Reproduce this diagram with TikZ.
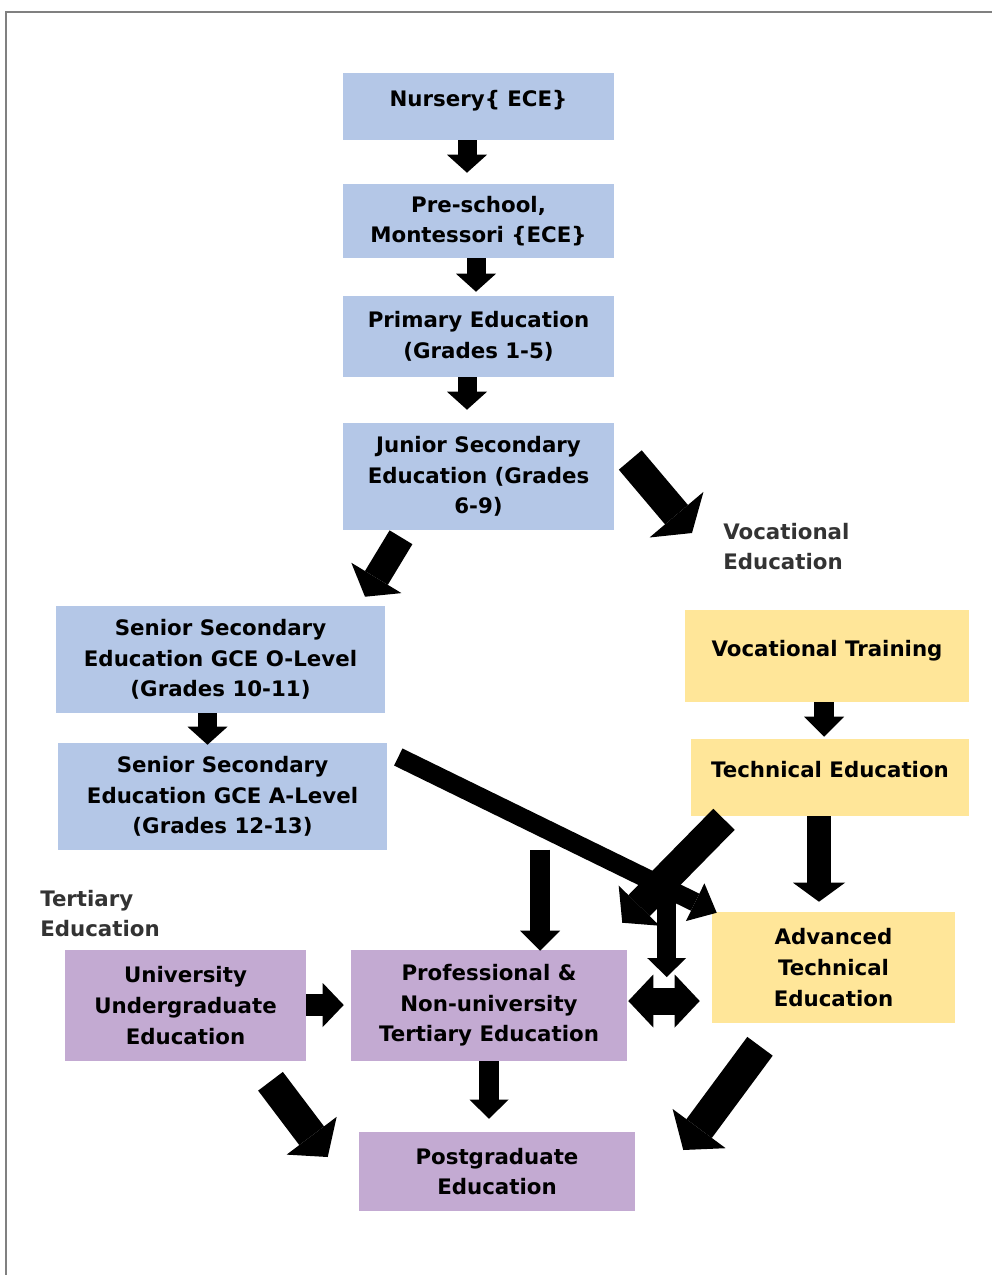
\documentclass[tikz,border=0pt]{standalone}
\usepackage{fontspec}
\setmainfont{DejaVu Sans}
\usetikzlibrary{arrows.meta,calc}
\definecolor{bluebox}{RGB}{180,199,231}
\definecolor{yellowbox}{RGB}{255,230,153}
\definecolor{purplebox}{RGB}{195,170,210}
\definecolor{labelgray}{RGB}{51,51,51}
\definecolor{framegray}{RGB}{128,128,128}
\begin{document}
\begin{tikzpicture}[x=0.75pt,y=-0.75pt,
  every node/.style={font=\fontsize{16pt}{22.9pt}\selectfont\bfseries},
  box/.style={inner sep=0pt, align=center, text=black},
  bluebx/.style={box, fill=bluebox},
  yellowbx/.style={box, fill=yellowbox},
  purplebx/.style={box, fill=purplebox},
  oneline/.style={text height=8pt, text depth=8pt},
  sidelabel/.style={inner sep=0pt, anchor=west, align=left, text=labelgray},
  barrow/.style n args={3}{line width=#1, -{Triangle[length=#2,width=#3,line width=0pt]}},
  dbarrow/.style n args={3}{line width=#1, {Triangle[length=#2,width=#3,line width=0pt]}-{Triangle[length=#2,width=#3,line width=0pt]}},
]
\useasboundingbox (0,0) rectangle (992,1275);
\draw[framegray, line width=1.1pt] (6,1275) -- (6,12) -- (992,12);

% boxes
\node[bluebx, oneline, minimum width=203.25pt, minimum height=50.25pt] (nursery) at (478.5,106.5) {Nursery\{ ECE\}};
\node[bluebx, minimum width=203.25pt, minimum height=55.5pt] (pre) at (478.5,221) {Pre-school,\\Montessori \{ECE\}};
\node[bluebx, minimum width=203.25pt, minimum height=60.75pt] (primary) at (478.5,336.5) {Primary Education\\(Grades 1-5)};
\node[bluebx, minimum width=203.25pt, minimum height=80.25pt] (junior) at (478.5,476.5) {Junior Secondary\\Education (Grades\\6-9)};
\node[bluebx, minimum width=246.75pt, minimum height=80.25pt] (seniorO) at (220.5,659.5) {Senior Secondary\\Education GCE O-Level\\(Grades 10-11)};
\node[bluebx, minimum width=246.75pt, minimum height=80.25pt] (seniorA) at (222.5,796.5) {Senior Secondary\\Education GCE A-Level\\(Grades 12-13)};
\node[yellowbx, oneline, minimum width=213pt, minimum height=69pt] (voctrain) at (827,656) {Vocational Training};
\node[yellowbx, oneline, minimum width=208.5pt, minimum height=57.75pt] (technical) at (830,777.5) {Technical Education};
\node[yellowbx, minimum width=182.25pt, minimum height=83.25pt] (advanced) at (833.5,967.5) {Advanced\\Technical\\Education};
\node[purplebx, minimum width=180.75pt, minimum height=83.25pt] (uni) at (185.5,1005.5) {University\\Undergraduate\\Education};
\node[purplebx, minimum width=207pt, minimum height=83.25pt] (prof) at (489,1005.5) {Professional \&\\Non-university\\Tertiary Education};
\node[purplebx, minimum width=207pt, minimum height=59.25pt] (post) at (497,1171.5) {Postgraduate\\Education};

\node[sidelabel] (voclabel) at (723,546.5) {Vocational\\Education};
\node[sidelabel] (tertlabel) at (40,913.5) {Tertiary\\Education};

% block arrows
\draw[barrow={14.25pt}{13.5pt}{30pt}] ($(nursery.south)+(-11.5,0)$) -- ($(pre.north)+(-11.5,-11)$);
\draw[barrow={14.25pt}{13.5pt}{30pt}] ($(pre.south)+(-2.5,0)$) -- ($(primary.north)+(-2.5,-4)$);
\draw[barrow={14.25pt}{13.5pt}{30pt}] ($(primary.south)+(-11.5,0)$) -- ($(junior.north)+(-11.5,-13)$);
\draw[barrow={22.5pt}{18pt}{53pt}] ($(junior.east)+(16,-16.5)$) -- ($(voclabel.west)+(-31,-13.5)$);
\draw[barrow={20pt}{16.5pt}{44pt}] ($(junior.south)+(-77.5,7)$) -- ($(seniorO.north)+(144.5,-9)$);
\draw[barrow={14.25pt}{13.5pt}{30pt}] ($(seniorO.south)+(-13,0)$) -- ($(seniorA.north)+(-15,2)$);
\draw[barrow={14.25pt}{18pt}{31.5pt}] ($(seniorA.east)+(11,-39.5)$) -- ($(advanced.north west)+(5,1)$);
\draw[barrow={22.5pt}{18pt}{43pt}] ($(technical.south)+(-106,3)$) -- ($(prof.north east)+(-5,-27)$);
\draw[barrow={15pt}{15pt}{30pt}] ($(prof.north)+(51,-100)$) -- ($(prof.north)+(51,1)$);
\draw[barrow={14.25pt}{14.25pt}{29.25pt}] ($(advanced.west)+(-45,-72.5)$) -- ($(advanced.west)+(-45,9.5)$);
\draw[dbarrow={20.25pt}{18.75pt}{39.75pt}] ($(prof.east)+(1,-4.5)$) -- ($(advanced.west)+(-12,33.5)$);
\draw[barrow={15pt}{15pt}{30pt}] ($(voctrain.south)+(-3,0)$) -- ($(technical.north)+(-6,-2)$);
\draw[barrow={18pt}{14.25pt}{39pt}] ($(technical.south)+(-11,0)$) -- ($(advanced.north)+(-14.5,-10)$);
\draw[barrow={23.7pt}{20pt}{49.5pt}] ($(advanced.south)+(-73.5,23)$) -- ($(post.east)+(48,-21.5)$);
\draw[barrow={23.25pt}{20pt}{47pt}] ($(uni.south)+(85,20)$) -- ($(post.west)+(-31,-14.5)$);
\draw[barrow={15pt}{14.25pt}{29.25pt}] (prof.south) -- ($(post.north)+(-8,-13)$);
\draw[barrow={16.5pt}{15.75pt}{33pt}] ($(uni.east)+(0,-0.5)$) -- ($(prof.west)+(-7,-0.5)$);
\end{tikzpicture}
\end{document}
